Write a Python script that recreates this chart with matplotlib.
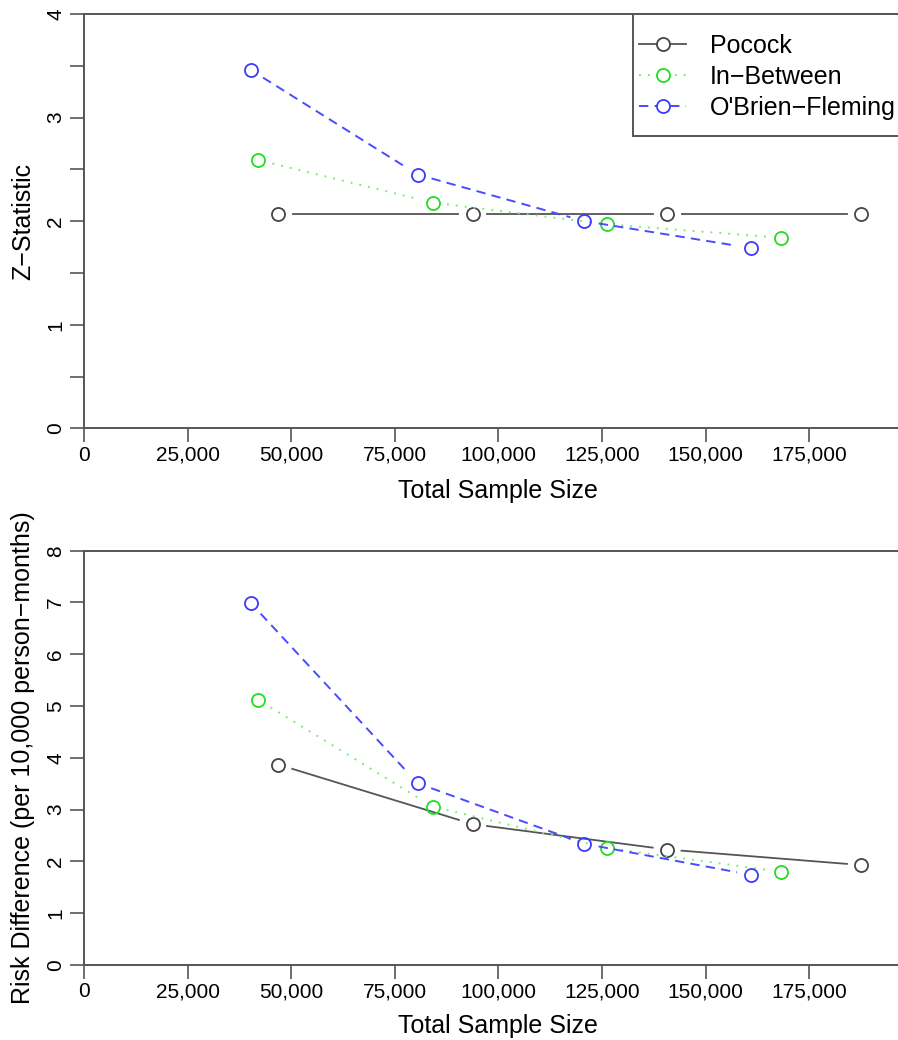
import numpy as np
import matplotlib
matplotlib.use("Agg")
import matplotlib.pyplot as plt
from matplotlib.lines import Line2D
from matplotlib.patches import Rectangle

plt.rcParams["font.family"] = ["Liberation Sans", "DejaVu Sans"]

# === DATI ===
n_pocock = [46900, 93800, 140700, 187600]
n_between = [42050, 84100, 126150, 168200]
n_obf = [40250, 80500, 120750, 161000]

z_pocock = [2.07, 2.07, 2.07, 2.07]
z_between = [2.59, 2.18, 1.97, 1.84]
z_obf = [3.46, 2.45, 2.00, 1.74]

rd_pocock = [3.87, 2.72, 2.23, 1.93]
rd_between = [5.12, 3.06, 2.26, 1.80]
rd_obf = [6.99, 3.51, 2.34, 1.74]

series_labels = ["Pocock", "In\u2212Between", "O'Brien\u2212Fleming"]
x_ticks = [0, 25000, 50000, 75000, 100000, 125000, 150000, 175000]

# === STILE ===
W, H = 898, 1040
axis_col = "#555555"
styles = [
    dict(line="#555555", mk="#444444", ls="-", lw=1.3),
    dict(line="#77ee77", mk="#22dd22", ls=(0, (1, 3.6)), lw=1.4),
    dict(line="#4a4aff", mk="#3a3aff", ls=(0, (4.8, 3.2)), lw=1.4),
]
ms = 9.4
gap_px = 14.5

fig = plt.figure(figsize=(W / 100, H / 100), dpi=100)


def px_axes(left, right, top, bottom):
    return fig.add_axes([left / W, 1 - bottom / H, (right - left) / W, (bottom - top) / H])


ax1 = px_axes(84, 912.8, 14, 428.3)
ax2 = px_axes(84, 912.8, 550.7, 965)


def setup(ax, ymax, ystep, ylab, ylab_y):
    ax.set_xlim(0, 200000)
    ax.set_ylim(0, ymax)
    ax.set_xticks(x_ticks)
    ax.set_xticklabels([f"{v:,}" for v in x_ticks])
    yt = np.arange(0, ymax + 1e-9, ystep)
    ax.set_yticks(yt)
    ax.set_yticklabels([f"{v:g}" if abs(v - round(v)) < 1e-9 else "" for v in yt])
    ax.spines["right"].set_visible(False)
    for s in ["top", "left", "bottom"]:
        ax.spines[s].set_color(axis_col)
        ax.spines[s].set_linewidth(1.4)
    ax.tick_params(direction="out", length=10, width=1.2, color=axis_col, labelsize=15)
    ax.tick_params(axis="x", pad=2.5)
    ax.tick_params(axis="y", pad=3.5)
    for t in ax.get_yticklabels():
        t.set_rotation(90)
        t.set_va("center")
    ax.set_xlabel("Total Sample Size", fontsize=18, va="center")
    ax.xaxis.set_label_coords(0.5, ylab_y)
    ax.set_ylabel(ylab, fontsize=18, va="center")
    ax.yaxis.set_label_coords(-0.0736, 0.5)


setup(ax1, 4, 0.5, "Z\u2212Statistic", -0.151)
setup(ax2, 8, 1, "Risk Difference (per 10,000 person\u2212months)", -0.147)


def gapped(ax, x, y, st):
    # linee tipo "b" di R: segmenti interrotti attorno ai punti
    pts = ax.transData.transform(np.column_stack([x, y]))
    inv = ax.transData.inverted()
    for p0, p1 in zip(pts[:-1], pts[1:]):
        d = p1 - p0
        u = d / np.hypot(*d)
        seg = inv.transform(np.array([p0 + u * gap_px, p1 - u * gap_px]))
        ax.plot(seg[:, 0], seg[:, 1], color=st["line"], ls=st["ls"], lw=st["lw"])
    ax.plot(x, y, ls="none", marker="o", ms=ms, mfc="none", mec=st["mk"], mew=1.3)


for ax, ys in [(ax1, [z_pocock, z_between, z_obf]), (ax2, [rd_pocock, rd_between, rd_obf])]:
    for xs, yv, st in zip([n_pocock, n_between, n_obf], ys, styles):
        gapped(ax, xs, yv, st)

# === LEGENDA ===
ax_w, ax_h = 912.8 - 84, 428.3 - 14
box_x = (633 - 84) / ax_w
box_y = (428.3 - 136) / ax_h
ax1.add_patch(Rectangle((box_x, box_y), 1 - box_x, 1 - box_y, transform=ax1.transAxes,
                        facecolor="white", edgecolor=axis_col, lw=1.4, zorder=4.5, clip_on=False))
handles = [Line2D([], [], color=st["line"], ls=st["ls"], lw=st["lw"], marker="o", ms=ms,
                  mfc="white", mec=st["mk"], mew=1.3) for st in styles]
ax1.legend(handles, series_labels, loc="center left",
           bbox_to_anchor=((639 - 84) / ax_w, (428.3 - 77) / ax_h),
           frameon=False, borderpad=0, borderaxespad=0, handlelength=1.89,
           handletextpad=0.96, labelspacing=0.28, fontsize=18, numpoints=1)

fig.savefig("out.png", dpi=100, facecolor="white")
